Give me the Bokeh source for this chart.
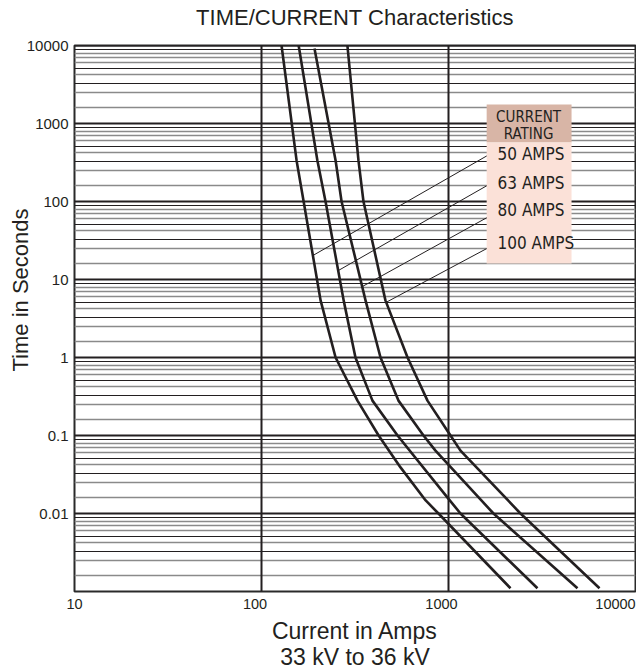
import numpy as np
from bokeh.plotting import figure
from bokeh.models import (FixedTicker, Label, BoxAnnotation, Range1d, Title,
                          CustomJSTickFormatter, LogAxis)
from bokeh.embed import file_html
from bokeh.resources import INLINE

# ---------------- data ----------------
ratings = ["50  AMPS", "63 AMPS", "80 AMPS", "100 AMPS"]

amps_50 = [128, 154, 168, 207, 249, 326, 423, 554, 755, 884, 2146]
time_50 = [10000, 336, 100, 5.4, 1, 0.28, 0.1, 0.039, 0.0147, 0.01, 0.0011]

amps_63 = [158, 199, 220, 275, 318, 392, 534, 988, 1159, 2991]
time_63 = [10000, 336, 100, 5.4, 1, 0.28, 0.1, 0.016, 0.01, 0.0011]

amps_80 = [192, 249, 268, 360, 433, 540, 735, 852, 1740, 4896]
time_80 = [9160, 336, 100, 5.4, 1, 0.28, 0.1, 0.064, 0.01, 0.0011]

amps_100 = [288, 330, 351, 460, 604, 772, 1025, 1159, 2427, 6420]
time_100 = [10000, 336, 100, 5.4, 1, 0.28, 0.1, 0.064, 0.01, 0.0011]

curves = [(amps_50, time_50), (amps_63, time_63), (amps_80, time_80), (amps_100, time_100)]

# leader lines: time at which each leader touches its curve, and label times
leader_touch_t = [20.3, 13.0, 8.1, 5.1]
leader_start_t = [410, 170, 66, 26.5]
label_t = [410, 172, 77, 29]

x_ticks = [10, 100, 1000, 10000]
x_tick_labels = ["10", "100", "1000", "10000"]
y_ticks = [0.01, 0.1, 1, 10, 100, 1000, 10000]
decades = [-3, -2, -1, 0, 1, 2, 3]
minor_dark_mult = [3.3, 5, 8.9]
minor_gray_mult = [1.6, 2.5, 4.2, 6, 7, 7.8]

# ---------------- styling ----------------
INK = "#231f20"
GRAY = "#8a8a8a"
FONT = "Liberation Sans"
NARROW = "DejaVu Sans Condensed"
PX_PER_DECADE = 187.0
label_shift_px = [0, -6.5, -7, -20]   # horizontal nudges of the x tick labels

p = figure(width=636, height=672, x_axis_type="log", y_axis_type="log",
           x_range=Range1d(10, 10000), y_range=Range1d(0.001, 10000),
           output_backend="svg", toolbar_location=None, title=None,
           min_border_left=74, min_border_right=1, min_border_top=45,
           min_border_bottom=81)
p.background_fill_color = "white"
p.border_fill_color = "white"
p.outline_line_color = "#2a2a2a"
p.outline_line_width = 2
p.xgrid.visible = False
p.ygrid.visible = False


def plain_axis(ax):
    ax.major_tick_in = 0
    ax.major_tick_out = 0
    ax.minor_tick_in = 0
    ax.minor_tick_out = 0
    ax.axis_line_color = None
    ax.major_label_text_font = FONT
    ax.major_label_text_color = INK
    ax.axis_label_text_font = FONT
    ax.axis_label_text_font_style = "normal"
    ax.axis_label_text_color = INK


# ---- y axis
yax = p.yaxis[0]
plain_axis(yax)
yax.ticker = FixedTicker(ticks=y_ticks)
yax.formatter = CustomJSTickFormatter(code="return tick.toString();")
yax.major_label_standoff = 6
yax.major_label_text_font_size = "15px"

# ---- x axis (labels nudged as in the reference)
xax = p.xaxis[0]
plain_axis(xax)
x_label_pos = [v * 10 ** (s / PX_PER_DECADE) for v, s in zip(x_ticks, label_shift_px)]
xax.ticker = FixedTicker(ticks=x_label_pos)
xax.formatter = CustomJSTickFormatter(args=dict(labels=x_tick_labels),
                                      code="return labels[index];")
xax.major_label_standoff = 7
xax.major_label_text_font_size = "14.5px"
xax.axis_label = "Current in Amps\n33 kV to 36 kV"
xax.axis_label_text_font_size = "23px"
xax.axis_label_text_line_height = 1.0
xax.axis_label_standoff = 6

# ---- chart title, carried by an empty axis above the frame
tax = LogAxis(ticker=FixedTicker(ticks=[]))
plain_axis(tax)
tax.axis_label = "TIME/CURRENT Characteristics"
tax.axis_label_text_font_size = "22px"
tax.axis_label_standoff = 16
p.add_layout(tax, "above")

# ---- y title
p.add_layout(Title(text="Time in Seconds", align="right", offset=163,
                   text_font=FONT, text_font_size="22px", text_font_style="normal",
                   text_color=INK, standoff=-18), "left")

# ---- grid lines
gray_ticks = [m * 10.0 ** k for k in decades for m in minor_gray_mult]
dark_ticks = [m * 10.0 ** k for k in decades for m in minor_dark_mult]
p.hspan(y=gray_ticks, line_color=GRAY, line_width=1.3)
p.hspan(y=dark_ticks, line_color=INK, line_width=1)
p.hspan(y=y_ticks, line_color=INK, line_width=2.2)
p.vspan(x=[100, 1000], line_color=INK, line_width=2)

# ---- curves
for amps, times in curves:
    p.line(amps, times, line_color=INK, line_width=2.6, line_join="round")

# ---- legend boxes
box_left, box_right = 1600, 4550
p.add_layout(BoxAnnotation(left=box_left, right=box_right, top=1750, bottom=570,
                           fill_color="#d8b5a6", fill_alpha=1, line_color=None))
p.add_layout(BoxAnnotation(left=box_left, right=box_right, top=570, bottom=16,
                           fill_color="#fbe1d8", fill_alpha=1, line_color=None))
p.add_layout(Label(x=2680, y=1229, text="CURRENT", text_align="center",
                   text_baseline="middle", text_font=NARROW,
                   text_font_size="15px", text_color=INK))
p.add_layout(Label(x=2680, y=744, text="RATING", text_align="center",
                   text_baseline="middle", text_font=NARROW,
                   text_font_size="15px", text_color=INK))

# ---- leader lines + labels
x0s, y0s, x1s, y1s = [], [], [], []
for (amps, times), tt, ts in zip(curves, leader_touch_t, leader_start_t):
    la = np.log10(np.array(amps, dtype=float))[::-1]
    lt = np.log10(np.array(times, dtype=float))[::-1]
    xc = 10 ** np.interp(np.log10(tt), lt, la)
    x0s.append(1680); y0s.append(ts); x1s.append(xc); y1s.append(tt)
p.segment(x0=x0s, y0=y0s, x1=x1s, y1=y1s, line_color=INK, line_width=1)
for txt, lt_ in zip(ratings, label_t):
    p.add_layout(Label(x=1830, y=lt_, text=txt, text_align="left",
                       text_baseline="middle", text_font=NARROW,
                       text_font_size="17px", text_color=INK))

open("out.html", "w").write(file_html(p, INLINE))
